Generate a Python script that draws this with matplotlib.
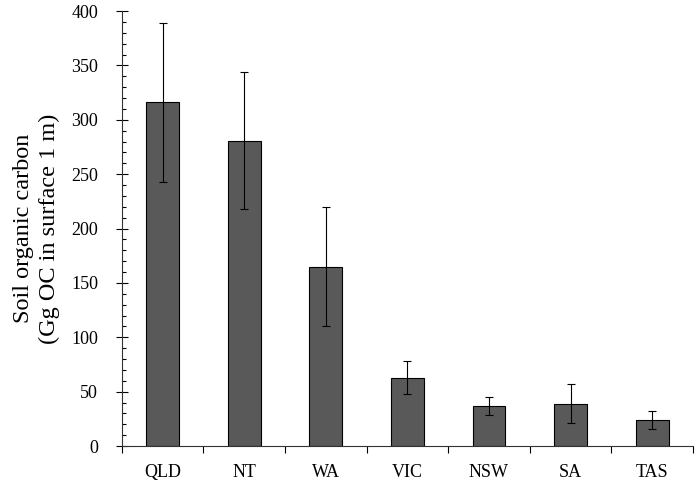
import numpy as np
import matplotlib.pyplot as plt
from matplotlib.ticker import MultipleLocator

states = ["QLD", "NT", "WA", "VIC", "NSW", "SA", "TAS"]
soc = [316, 281, 165, 63, 37, 39, 24]
err = [73, 63, 55, 15, 8.5, 18, 8]

plt.rcParams["font.family"] = ["Liberation Serif", "DejaVu Serif"]

fig = plt.figure(figsize=(7, 4.84), dpi=100)
ax = fig.add_axes([0.174, 0.0785, 0.816, 0.8985])

x = np.arange(len(states))
ax.bar(x, soc, width=0.4, color="#595959", edgecolor="black", linewidth=0.8,
       yerr=err, error_kw=dict(ecolor="black", elinewidth=0.8, capsize=3, capthick=0.8))

ax.set_xlim(-0.5, len(states) - 0.5)
ax.set_ylim(0, 400)
ax.set_xticks(x)
ax.set_xticklabels(states, fontsize=13)
ax.set_xticks(np.arange(-0.5, len(states), 1.0), minor=True)
ax.tick_params(axis="x", which="major", length=0, pad=13)
ax.tick_params(axis="x", which="minor", direction="out", length=5, width=0.8)

ax.yaxis.set_major_locator(MultipleLocator(50))
ax.yaxis.set_minor_locator(MultipleLocator(10))
ax.tick_params(axis="y", which="major", direction="inout", length=8, width=0.8,
               labelsize=13, pad=13)
ax.tick_params(axis="y", which="minor", direction="in", length=3, width=0.8)

ax.spines["top"].set_visible(False)
ax.spines["right"].set_visible(False)
for s in ("left", "bottom"):
    ax.spines[s].set_linewidth(0.8)
    ax.spines[s].set_color("#333333")

ax.set_ylabel("Soil organic carbon\n(Gg OC in surface 1 m)", fontsize=17.5,
              linespacing=1.3, labelpad=8)

fig.savefig("out.png", dpi=100)
